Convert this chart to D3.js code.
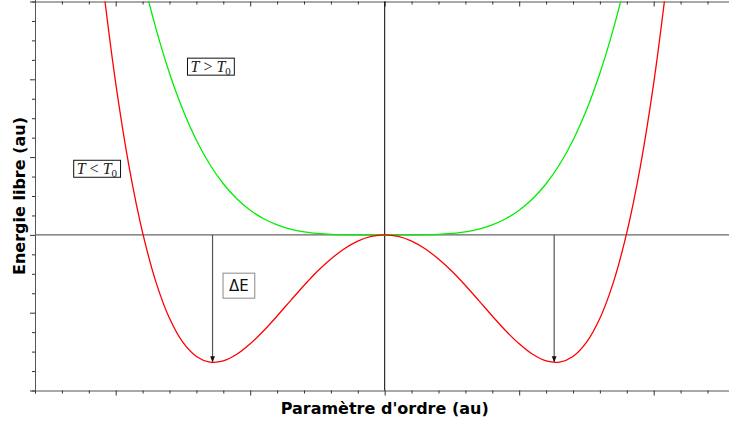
<!DOCTYPE html>
<html>
<head>
<meta charset="utf-8">
<script src="https://cdn.jsdelivr.net/npm/d3@7"></script>
<style>
  body { margin: 0; background: #fff; }
  svg { display: block; }
</style>
</head>
<body>
<div id="chart"></div>
<script>
// values (au)
let xValues = [-10.5, -10, -9.5, -9, -8.5, -8, -7.5, -7, -6.5, -6, -5.5, -5, -4.5, -4, -3.5, -3, -2.5, -2, -1.5, -1, -0.5,
    0, 0.5, 1, 1.5, 2, 2.5, 3, 3.5, 4, 4.5, 5, 5.5, 6, 6.5, 7, 7.5, 8, 8.5, 9, 9.5, 10, 10.5];
// T < T0 (double well)
let redValues = [13.15, 7.80, 3.49, 0.12, -2.44, -4.29, -5.53, -6.25, -6.54, -6.48, -6.14, -5.60, -4.93, -4.17, -3.38, -2.60, -1.87, -1.24, -0.71, -0.32, -0.08,
    0, -0.08, -0.32, -0.71, -1.24, -1.87, -2.60, -3.38, -4.17, -4.93, -5.60, -6.14, -6.48, -6.54, -6.25, -5.53, -4.29, -2.44, 0.12, 3.49, 7.80, 13.15];
// T > T0
let greenValues = [30, 21, 16.9, 13.31, 10.59, 8.31, 6.42, 4.87, 3.62, 2.63, 1.86, 1.27, 0.83, 0.52, 0.30, 0.16, 0.08, 0.03, 0.01, 0.002, 0,
    0, 0, 0.002, 0.01, 0.03, 0.08, 0.16, 0.30, 0.52, 0.83, 1.27, 1.86, 2.63, 3.62, 4.87, 6.42, 8.31, 10.59, 13.31, 16.9, 21, 30];
let minima = [-6.4, 6.3];
let depth = -6.55;
let labels = [
    {x: -10.7, y: 3.4, parts: ["T", " < ", "T", "0"]},
    {x: -6.47, y: 8.65, parts: ["T", " > ", "T", "0"]}
];
let deltaLabel = {x: -5.42, y: -2.61, text: "ΔE"};

let width = 729, height = 425;
let plotLeft = 35, plotBottom = 390.5, plotTop = 1.5, plotRight = 734.4;

let svg = d3.select("#chart").append("svg")
    .attr("width", width)
    .attr("height", height);

let x = d3.scaleLinear().domain([-13, 13]).range([plotLeft, plotRight]);
let y = d3.scaleLinear().domain([-8, 12]).range([plotBottom, plotTop]);

let defs = svg.append("defs");
defs.append("clipPath").attr("id", "plot")
    .append("rect")
    .attr("x", plotLeft).attr("y", plotTop)
    .attr("width", plotRight - plotLeft).attr("height", plotBottom - plotTop);

defs.append("marker")
    .attr("id", "head")
    .attr("viewBox", "0 0 10 10")
    .attr("refX", 10).attr("refY", 5)
    .attr("markerWidth", 6).attr("markerHeight", 6)
    .attr("markerUnits", "userSpaceOnUse")
    .attr("orient", "auto")
    .append("path")
    .attr("d", "M0,1L10,5L0,9Z")
    .attr("fill", "#111");

// axes with minor / major ticks
function ticks(axisFn, scale, values, major, attr, sign) {
    let g = svg.append("g");
    g.call(axisFn(scale).tickValues(values).tickFormat("").tickSizeOuter(0).tickSize(3));
    g.selectAll(".tick line")
        .attr(attr, function(d) { return (d % major == 0 ? 5 : 3) * sign; })
        .attr("stroke", "#333");
    g.select(".domain").attr("stroke", "#555");
    return g;
}

let xt = d3.range(-13, 14);
let yt = d3.range(-8, 13);

ticks(d3.axisBottom, x, xt, 5, "y2", 1).attr("transform", "translate(0," + plotBottom + ")");
ticks(d3.axisTop, x, xt, 5, "y2", 1).attr("transform", "translate(0," + plotTop + ")");
ticks(d3.axisLeft, y, yt, 4, "x2", -1).attr("transform", "translate(" + plotLeft + ",0)");

// zero lines
svg.append("line")
    .attr("x1", plotLeft).attr("x2", width)
    .attr("y1", y(0)).attr("y2", y(0))
    .attr("stroke", "#666").attr("stroke-width", 1.2);
svg.append("line")
    .attr("x1", x(0)).attr("x2", x(0))
    .attr("y1", plotTop).attr("y2", plotBottom)
    .attr("stroke", "#000").attr("stroke-width", 1);

// arrows
svg.selectAll(".arrow")
    .data(minima)
    .enter().append("line")
    .attr("class", "arrow")
    .attr("x1", d => x(d)).attr("x2", d => x(d))
    .attr("y1", y(0)).attr("y2", y(depth))
    .attr("stroke", "#555").attr("stroke-width", 1.2)
    .attr("marker-end", "url(#head)");

let line = d3.line()
    .x(d => x(d[0]))
    .y(d => y(d[1]))
    .curve(d3.curveCatmullRom);

let plot = svg.append("g").attr("clip-path", "url(#plot)");
plot.append("path")
    .datum(d3.zip(xValues, greenValues))
    .attr("d", line)
    .attr("fill", "none")
    .attr("stroke", "#00ee00")
    .attr("stroke-width", 1.3);
plot.append("path")
    .datum(d3.zip(xValues, redValues))
    .attr("d", line)
    .attr("fill", "none")
    .attr("stroke", "#ff0000")
    .attr("stroke-width", 1.3);

// math labels in boxes
labels.forEach(function(l) {
    let g = svg.append("g");
    let t = g.append("text")
        .attr("x", x(l.x)).attr("y", y(l.y) + 5)
        .attr("text-anchor", "middle")
        .style("font-family", "'Liberation Serif', serif")
        .style("font-size", "16px")
        .attr("fill", "#222");
    t.append("tspan").text(l.parts[0]).style("font-style", "italic");
    t.append("tspan").text(l.parts[1]);
    t.append("tspan").text(l.parts[2]).style("font-style", "italic");
    t.append("tspan").text(l.parts[3]).attr("dy", 3).style("font-size", "11px");
    let b = t.node().getBBox();
    g.insert("rect", "text")
        .attr("x", b.x - 3).attr("y", y(l.y) - 8.5)
        .attr("width", b.width + 6).attr("height", 17)
        .attr("fill", "#fff")
        .attr("stroke", "#111").attr("stroke-width", 1);
});

let dg = svg.append("g");
let dt = dg.append("text")
    .attr("x", x(deltaLabel.x)).attr("y", y(deltaLabel.y) + 5.5)
    .attr("text-anchor", "middle")
    .style("font-family", "'DejaVu Sans', sans-serif")
    .style("font-size", "15px")
    .attr("fill", "#111")
    .text(deltaLabel.text);
let db = dt.node().getBBox();
dg.insert("rect", "text")
    .attr("x", db.x - 6).attr("y", y(deltaLabel.y) - 12.5)
    .attr("width", db.width + 12).attr("height", 25)
    .attr("fill", "#fff")
    .attr("stroke", "#888").attr("stroke-width", 1);

// axis titles
svg.append("text")
    .attr("x", x(0)).attr("y", 414)
    .attr("text-anchor", "middle")
    .style("font-family", "'DejaVu Sans', sans-serif")
    .style("font-weight", "bold")
    .style("font-size", "16px")
    .text("Paramètre d'ordre (au)");

svg.append("text")
    .attr("transform", "translate(25,196) rotate(-90)")
    .attr("text-anchor", "middle")
    .style("font-family", "'DejaVu Sans', sans-serif")
    .style("font-weight", "bold")
    .style("font-size", "16px")
    .text("Energie libre (au)");
</script>
</body>
</html>
